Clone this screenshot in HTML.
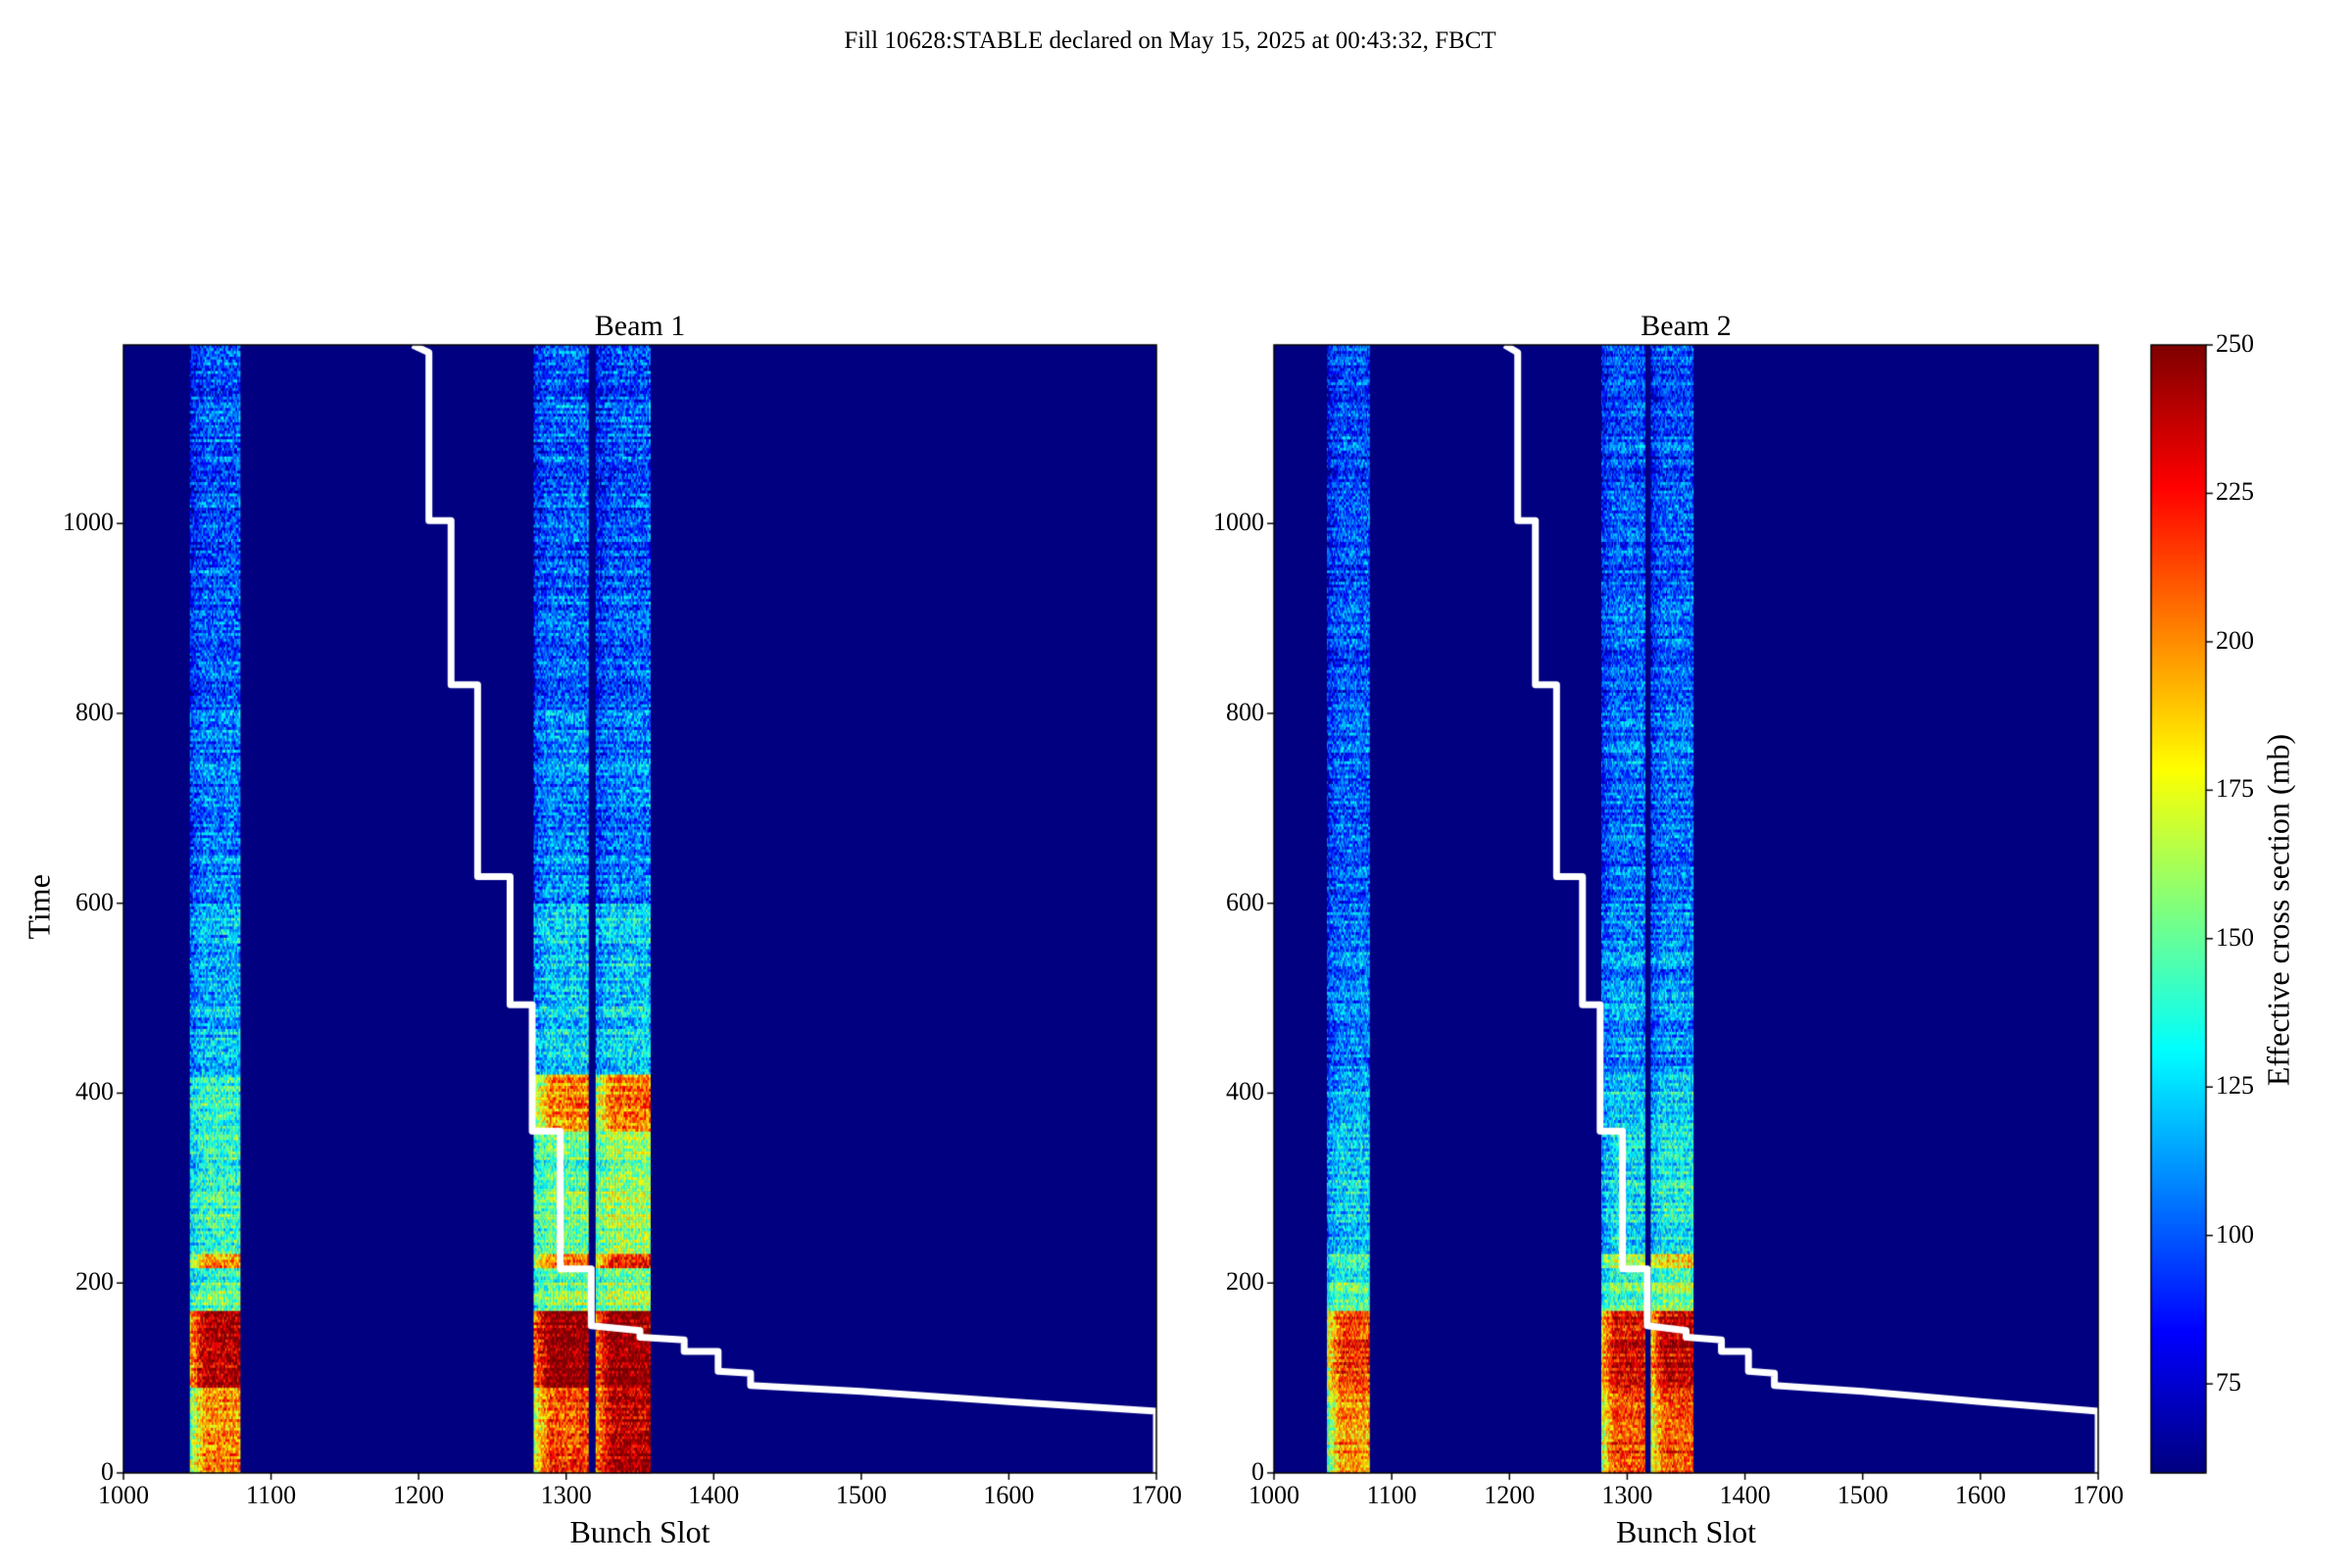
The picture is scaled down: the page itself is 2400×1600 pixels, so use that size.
<!DOCTYPE html>
<html><head><meta charset="utf-8"><style>
body{margin:0;background:#fff;width:2400px;height:1600px;position:relative;overflow:hidden;font-family:"Liberation Serif",serif;color:#000}
.t{position:absolute;white-space:nowrap}
canvas{position:absolute;left:0;top:0}
</style></head><body>
<div class="t" style="left:0;width:2388px;text-align:center;top:28px;font-size:25px">Fill 10628:STABLE declared on May 15, 2025 at 00:43:32, FBCT</div>
<canvas id="cv" width="2400" height="1600"></canvas>
<div id="labels"></div>
<script>
// ---- data ----
const xTicks=[1000,1100,1200,1300,1400,1500,1600,1700];
const yTicks=[0,200,400,600,800,1000];
const cbTicks=[75,100,125,150,175,200,225,250];
const vmin=60, vmax=250, tMax=1188;
// bunch-slot bands [start,end]
const bands1=[[1045,1078],[1278,1314],[1320,1356]];
const bands2=[[1045,1080],[1278,1314],[1320,1355]];
// time segment boundaries
const segs=[0,90,170,200,215,230,360,420,600,800,1188];
// per band mean values for each segment (beam 1)
const b1Band0=[200,240,150,135,190,140,140,120,108,100];
const b1Band1=[215,250,155,145,200,150,200,125,110,102];
const b1Band2=[240,250,160,150,215,160,205,125,108,100];
// beam 2
const b2Band0=[200,215,150,135,140,125,120,108,102,98];
const b2Band1=[215,230,150,140,160,130,125,112,105,100];
const b2Band2=[215,235,160,150,180,135,128,112,105,100];
// white step lines: slots and times
const line1X=[1196,1207,1207,1222,1222,1240,1240,1262,1262,1277,1277,1296,1296,1317,1317,1350,1350,1380,1380,1403,1403,1425,1425,1500,1600,1700,1700];
const line1Y=[1188,1180,1003,1003,830,830,628,628,493,493,360,360,215,215,155,150,143,140,128,128,107,105,92,86,75,65,0];
const line2X=line1X.slice();
const line2Y=line1Y.slice();

const L={x0:126,x1:1180,y0:352,y1:1503};
const R={x0:1300,x1:2141,y0:352,y1:1503};
const CB={x0:2195,x1:2251,y0:352,y1:1503};

function sx(ax,v){return ax.x0+(v-1000)/700*(ax.x1-ax.x0);}
function sy(ax,v){return ax.y1-v/tMax*(ax.y1-ax.y0);}
function clamp(v){return Math.max(0,Math.min(1,v));}
function jet(t){t=clamp(t);return[255*clamp(1.5-Math.abs(4*t-3)),255*clamp(1.5-Math.abs(4*t-2)),255*clamp(1.5-Math.abs(4*t-1))];}
function hash(a,b){let h=(a*374761393+b*668265263)>>>0;h=((h^(h>>>13))*1274126177)>>>0;return ((h^(h>>>16))>>>0)/4294967295;}
function segVal(arr,t){for(let i=0;i<segs.length-1;i++){if(t<segs[i+1])return arr[i];}return arr[arr.length-1];}

const cv=document.getElementById('cv');const c=cv.getContext('2d');
function drawHeat(ax,bands,vals,seed){
  c.fillStyle='#000080';c.fillRect(ax.x0,ax.y0,ax.x1-ax.x0,ax.y1-ax.y0);
  const dt=3;
  bands.forEach((b,bi)=>{
    const arr=vals[bi];
    for(let s=b[0];s<=b[1];s++){
      const px0=sx(ax,s),px1=sx(ax,s+1);
      const edge=(s-b[0])/(b[1]-b[0]);
      for(let t=0;t<tMax;t+=dt){
        let m=segVal(arr,t);
        if(edge<0.3) m=m-(0.3-edge)*150*(m>180?1:0.3);
        const rowN=hash(seed+7,Math.floor(t/dt))*24-12;
        const n=hash(seed*1000+s,Math.floor(t/dt))*50-25;
        const v=m+n+rowN;
        const col=jet((v-vmin)/(vmax-vmin));
        c.fillStyle=`rgb(${col[0]|0},${col[1]|0},${col[2]|0})`;
        const y0=sy(ax,t+dt),y1=sy(ax,t);
        c.fillRect(px0,y0,px1-px0+0.4,y1-y0+0.4);
      }
    }
  });
}
drawHeat(L,bands1,[b1Band0,b1Band1,b1Band2],1);
drawHeat(R,bands2,[b2Band0,b2Band1,b2Band2],2);
function drawLine(ax,X,Y){
  c.save();c.beginPath();c.rect(ax.x0,ax.y0,ax.x1-ax.x0,ax.y1-ax.y0);c.clip();
  c.strokeStyle='#fff';c.lineWidth=7;c.lineJoin='round';c.beginPath();
  X.forEach((x,i)=>{const px=sx(ax,x),py=sy(ax,Y[i]);i?c.lineTo(px,py):c.moveTo(px,py);});
  c.stroke();c.restore();
}
drawLine(L,line1X,line1Y);drawLine(R,line2X,line2Y);
for(let y=CB.y0;y<CB.y1;y++){const v=vmin+(CB.y1-y)/(CB.y1-CB.y0)*(vmax-vmin);const col=jet((v-vmin)/(vmax-vmin));c.fillStyle=`rgb(${col[0]|0},${col[1]|0},${col[2]|0})`;c.fillRect(CB.x0,y,CB.x1-CB.x0,1.2);}
c.strokeStyle='#000';c.lineWidth=1.5;
[L,R,CB].forEach(a=>c.strokeRect(a.x0,a.y0,a.x1-a.x0,a.y1-a.y0));
const lab=document.getElementById('labels');
function txt(name,s,x,y,style){const d=document.createElement('div');d.className='t';


d.textContent=s;d.style.cssText=`left:${x}px;top:${y}px;`+style;lab.appendChild(d);}
c.lineWidth=1.5;
[L,R].forEach((ax,ai)=>{
  xTicks.forEach(v=>{const x=sx(ax,v);c.beginPath();c.moveTo(x,ax.y1);c.lineTo(x,ax.y1+7);c.stroke();
    txt('x-tick-label',String(v),x-60,ax.y1+8,'width:120px;text-align:center;font-size:26px');});
  yTicks.forEach(v=>{const y=sy(ax,v);c.beginPath();c.moveTo(ax.x0,y);c.lineTo(ax.x0-7,y);c.stroke();
    txt('y-tick-label',String(v),ax.x0-130,y-16,'width:120px;text-align:right;font-size:26px');});
  txt('x-axis-title','Bunch Slot',(ax.x0+ax.x1)/2-150,ax.y1+42,'width:300px;text-align:center;font-size:32px');
  txt('panel-title',ai?'Beam 2':'Beam 1',(ax.x0+ax.x1)/2-150,ax.y0-36,'width:300px;text-align:center;font-size:30px');
});
cbTicks.forEach(v=>{const y=CB.y1-(v-vmin)/(vmax-vmin)*(CB.y1-CB.y0);c.beginPath();c.moveTo(CB.x1,y);c.lineTo(CB.x1+7,y);c.stroke();
  txt('colorbar-tick-label',String(v),CB.x1+10,y-16,'font-size:26px');});
txt('y-axis-title','Time',10,910,'font-size:32px;transform:rotate(-90deg);transform-origin:center;width:60px;text-align:center');
txt('colorbar-title','Effective cross section (mb)',2325-250,910,'font-size:32px;transform:rotate(-90deg);transform-origin:center;width:500px;text-align:center');
</script>
</body></html>
